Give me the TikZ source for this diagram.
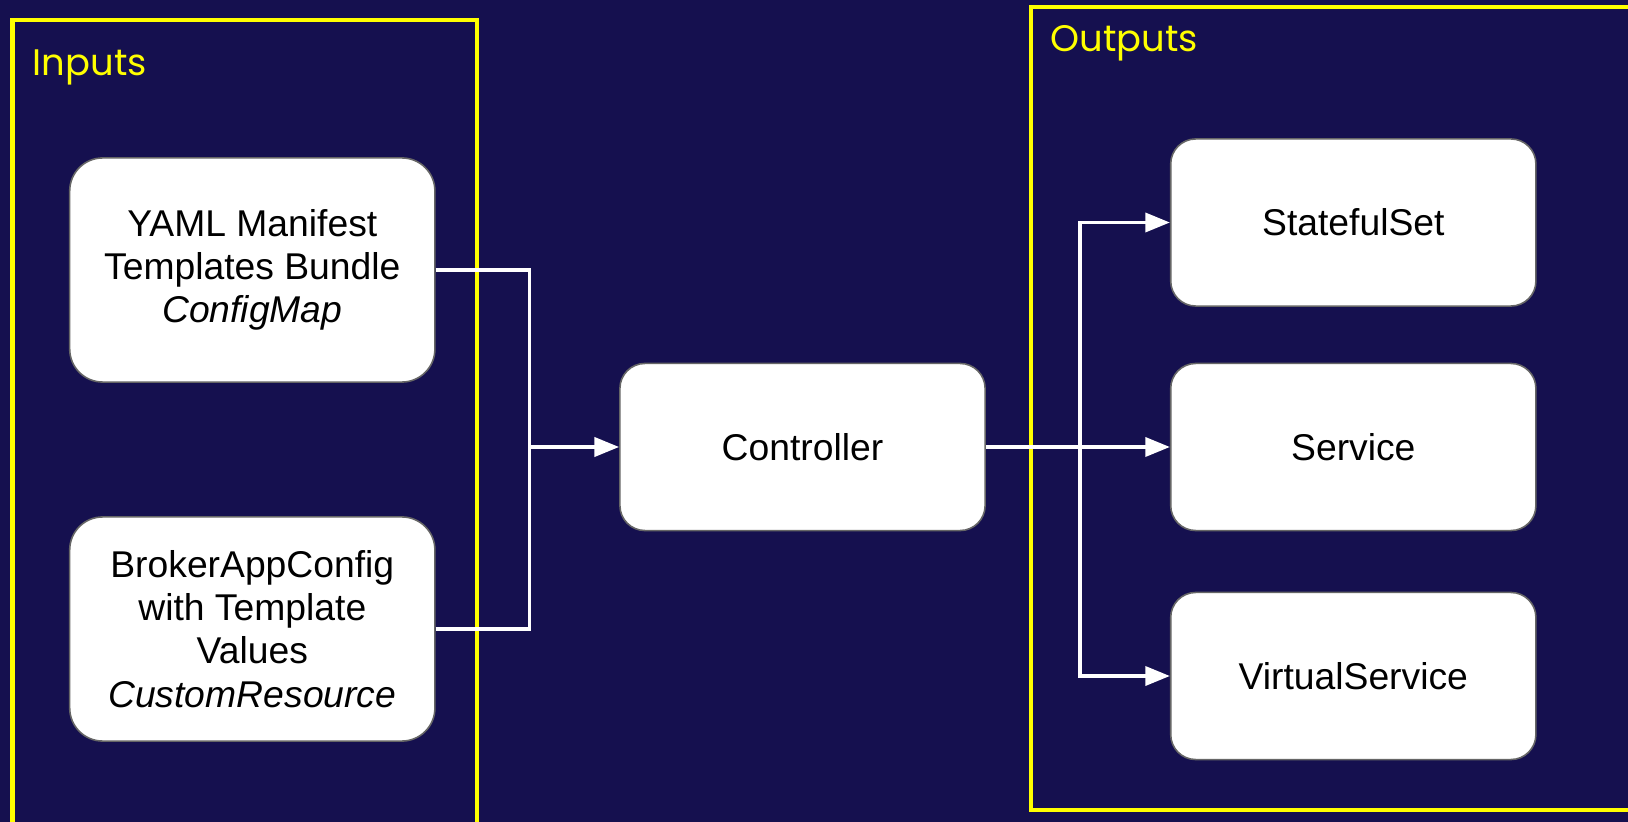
\documentclass[tikz,border=0pt]{standalone}
\usepackage{fontspec}
\setmainfont{Liberation Sans}
\newfontfamily\poppins{Poppins}
\usetikzlibrary{arrows.meta}
\definecolor{navy}{HTML}{15104F}
\definecolor{frameyellow}{HTML}{FFFF00}
\tikzset{
	item/.style={draw=black!60, line width=0.45pt, fill=white, rounded corners=0.25cm, minimum width=3.65cm, minimum height=1.67cm, align=center, font=\fontsize{10.6}{12.3}\selectfont},
	input/.style={item, rounded corners=0.33cm, minimum height=2.24cm},
	group/.style={draw=frameyellow, line width=1.15pt},
	grouplabel/.style={text=frameyellow, font=\poppins\fontsize{10.5}{13}\selectfont, anchor=base west, inner sep=0pt},
	wire/.style={draw=white, line width=1.05pt},
	feed/.style={wire, -{Triangle[length=7pt, width=5.4pt]}}
}

\begin{document}
\begin{tikzpicture}[x=0.01cm, y=-0.01cm]
			%%%%% START %%%%%
			
			\useasboundingbox (0, 0) rectangle (1628, 822);
			\clip (0, 0) rectangle (1628, 822);
			\fill[navy] (0, 0) rectangle (1628, 822);
			
			% groups
			\draw[group] (12.5, 19.7) rectangle (476.6, 850);
			\node[grouplabel] (inlabel) at (32, 76) {Inputs};
			\draw[group] (1031, 7.3) rectangle (1660, 810);
			\node[grouplabel] (outlabel) at (1050, 52) {Outputs};
			
			% inputs
			\node[input] (yaml) at (252.3, 270) {YAML Manifest\\Templates Bundle\\\textit{ConfigMap}};
			\node[input] (broker) at (252.3, 629) {BrokerAppConfig\\with Template\\Values\\\textit{CustomResource}};
			
			\node[item] (ctrl) at (802.5, 447) {Controller};
			
			% outputs
			\node[item] (sts) at (1353.3, 222.5) {StatefulSet};
			\node[item] (svc) at (1353.3, 447) {Service};
			\node[item] (vsvc) at (1353.3, 676) {VirtualService};
			
			\coordinate (join) at (529.5, 447);
			\coordinate (fork) at (1080, 447);
			
			\draw[wire] (yaml.east) -| (join);
			\draw[wire] (broker.east) -| (join);
			\draw[feed] (join) -- (ctrl.west);
			
			\draw[feed] (ctrl.east) -- (svc.west);
			\draw[feed] (fork) |- (sts.west);
			\draw[feed] (fork) |- (vsvc.west);
			
			%%%%% END %%%%%
\end{tikzpicture}
\end{document}
